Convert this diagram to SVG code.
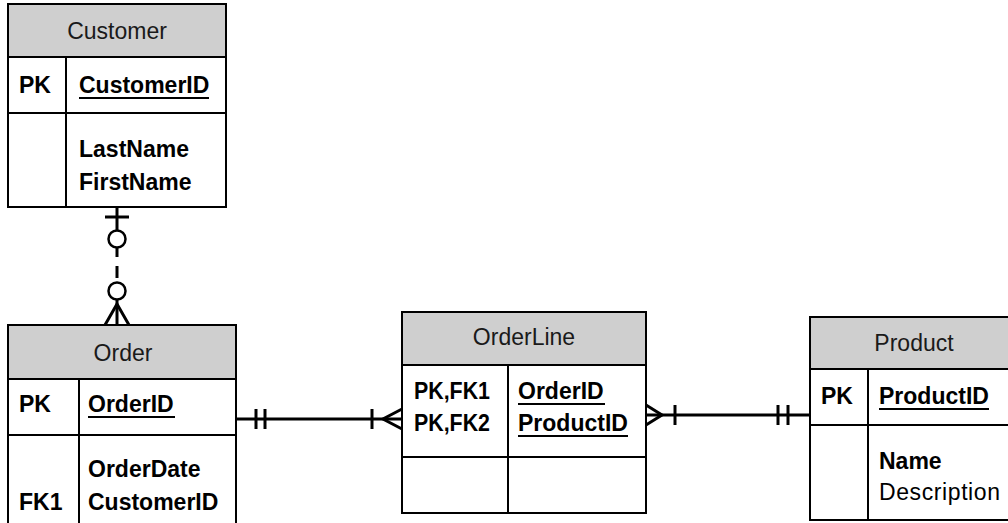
<svg xmlns="http://www.w3.org/2000/svg" width="1008" height="523" viewBox="0 0 1008 523">
  <style>
    .box { fill: #ffffff; stroke: #000000; stroke-width: 2; }
    .head { fill: #cfcfcf; stroke: #000000; stroke-width: 2; }
    .div { stroke: #000000; stroke-width: 2; fill: none; }
    .title { font-family: "Liberation Sans", Arial, sans-serif; font-size: 23px; fill: #1a1a1a; text-anchor: middle; }
    .key { font-family: "Liberation Sans", Arial, sans-serif; font-size: 23px; font-weight: bold; fill: #000000; }
    .attr { font-family: "Liberation Sans", Arial, sans-serif; font-size: 23px; font-weight: bold; fill: #000000; }
    .plain { font-family: "Liberation Sans", Arial, sans-serif; font-size: 23px; fill: #000000; }
    .ul { stroke: #000000; stroke-width: 1.8; }
    .rel { stroke: #000000; stroke-width: 3; fill: none; }
    .sym { stroke: #000000; stroke-width: 3; fill: none; }
    .ring { stroke: #000000; stroke-width: 2.5; fill: #ffffff; }
  </style>

  <!-- relationship lines with cardinality symbols -->
  <g id="connectors">
    <!-- Customer (one, optional) to Order (many, optional) -->
    <g id="customer-order">
      <line class="rel" x1="117" y1="207" x2="117" y2="230"/>
      <line class="sym" x1="105" y1="217" x2="129" y2="217"/>
      <circle class="ring" cx="117" cy="239" r="8.5"/>
      <line class="rel" x1="117" y1="247" x2="117" y2="257"/>
      <line class="rel" x1="117" y1="266" x2="117" y2="278"/>
      <circle class="ring" cx="117" cy="291" r="8.5"/>
      <line class="rel" x1="117" y1="300" x2="117" y2="325"/>
      <polyline class="sym" points="105,325 117,304 129,325"/>
    </g>
    <!-- Order (exactly one) to OrderLine (one or many) -->
    <g id="order-orderline">
      <line class="rel" x1="236" y1="419" x2="402" y2="419"/>
      <line class="sym" x1="256" y1="409" x2="256" y2="429"/>
      <line class="sym" x1="265" y1="409" x2="265" y2="429"/>
      <line class="sym" x1="372" y1="409" x2="372" y2="429"/>
      <polyline class="sym" points="402,409 383,419 402,429"/>
    </g>
    <!-- OrderLine (one or many) to Product (exactly one) -->
    <g id="orderline-product">
      <line class="rel" x1="646" y1="415" x2="810" y2="415"/>
      <polyline class="sym" points="646,405 662,415 646,425"/>
      <line class="sym" x1="675" y1="405" x2="675" y2="425"/>
      <line class="sym" x1="778" y1="405" x2="778" y2="425"/>
      <line class="sym" x1="788" y1="405" x2="788" y2="425"/>
    </g>
  </g>

  <!-- Customer entity -->
  <g id="customer">
    <rect class="box" x="8" y="4" width="218" height="203"/>
    <rect class="head" x="8" y="4" width="218" height="53"/>
    <line class="div" x1="8" y1="113" x2="226" y2="113"/>
    <line class="div" x1="66" y1="57" x2="66" y2="207"/>
    <text class="title" x="117" y="39">Customer</text>
    <text class="key" x="19" y="93">PK</text>
    <text class="attr" x="79" y="93">CustomerID</text>
    <line class="ul" x1="79" y1="98" x2="209" y2="98"/>
    <text class="attr" x="79" y="157">LastName</text>
    <text class="attr" x="79" y="190">FirstName</text>
  </g>

  <!-- Order entity -->
  <g id="order">
    <rect class="box" x="8" y="325" width="228" height="215"/>
    <rect class="head" x="8" y="325" width="228" height="54"/>
    <line class="div" x1="8" y1="435" x2="236" y2="435"/>
    <line class="div" x1="79" y1="379" x2="79" y2="540"/>
    <text class="title" x="123" y="361">Order</text>
    <text class="key" x="19" y="412">PK</text>
    <text class="attr" x="88" y="412">OrderID</text>
    <line class="ul" x1="88" y1="417" x2="175" y2="417"/>
    <text class="attr" x="88" y="477">OrderDate</text>
    <text class="key" x="19" y="510">FK1</text>
    <text class="attr" x="88" y="510">CustomerID</text>
  </g>

  <!-- OrderLine entity -->
  <g id="orderline">
    <rect class="box" x="402" y="312" width="244" height="201"/>
    <rect class="head" x="402" y="312" width="244" height="53"/>
    <line class="div" x1="402" y1="457" x2="646" y2="457"/>
    <line class="div" x1="508" y1="365" x2="508" y2="513"/>
    <text class="title" x="524" y="345">OrderLine</text>
    <text class="key" x="414" y="399" textLength="76" lengthAdjust="spacingAndGlyphs">PK,FK1</text>
    <text class="key" x="414" y="431" textLength="76" lengthAdjust="spacingAndGlyphs">PK,FK2</text>
    <text class="attr" x="518" y="399">OrderID</text>
    <line class="ul" x1="518" y1="404" x2="605" y2="404"/>
    <text class="attr" x="518" y="431">ProductID</text>
    <line class="ul" x1="518" y1="436" x2="628" y2="436"/>
  </g>

  <!-- Product entity -->
  <g id="product">
    <rect class="box" x="810" y="317" width="210" height="203"/>
    <rect class="head" x="810" y="317" width="210" height="52"/>
    <line class="div" x1="810" y1="425" x2="1020" y2="425"/>
    <line class="div" x1="868" y1="369" x2="868" y2="520"/>
    <text class="title" x="914" y="351">Product</text>
    <text class="key" x="821" y="404">PK</text>
    <text class="attr" x="879" y="404">ProductID</text>
    <line class="ul" x1="879" y1="409" x2="989" y2="409"/>
    <text class="attr" x="879" y="469">Name</text>
    <text class="plain" x="879" y="500" textLength="121">Description</text>
  </g>
</svg>
